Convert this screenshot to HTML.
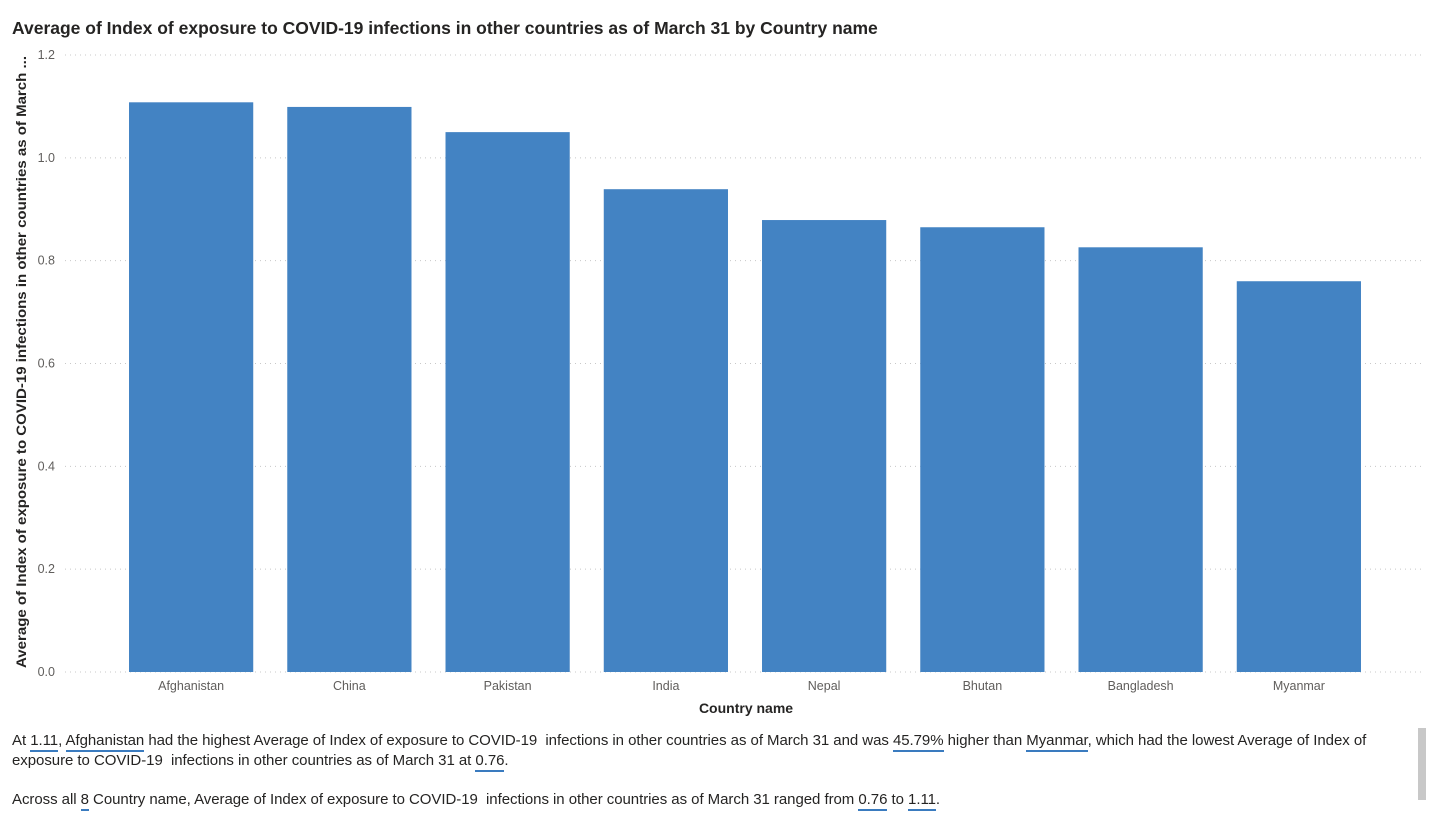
<!DOCTYPE html>
<html><head><meta charset="utf-8">
<style>
body{margin:0;width:1438px;height:835px;background:#fff;font-family:"Liberation Sans",sans-serif;overflow:hidden;position:relative}
#title{position:absolute;left:12px;top:18px;font-size:17.5px;font-weight:bold;color:#252423}
#narr{position:absolute;left:12px;top:731px;font-size:15px;line-height:19.5px;color:#252423;white-space:nowrap;letter-spacing:-0.05px}
#narr u{text-decoration:none;border-bottom:2px solid #3a7bbf;padding-bottom:1px}
#scroll{position:absolute;left:1418px;top:728px;width:8px;height:72px;background:#c8c8c8}
svg text{font-family:"Liberation Sans",sans-serif}
</style></head><body>
<div id="title">Average of Index of exposure to COVID-19 infections in other countries as of March 31 by Country name</div>
<svg id="chart" width="1438" height="725" style="position:absolute;left:0;top:0"></svg>
<div id="narr">At <u>1.11</u>, <u>Afghanistan</u> had the highest Average of Index of exposure to COVID-19&nbsp; infections in other countries as of March 31 and was <u>45.79%</u> higher than <u>Myanmar</u>, which had the lowest Average of Index of<br>exposure to COVID-19&nbsp; infections in other countries as of March 31 at <u>0.76</u>.<br><br>Across all <u>8</u> Country name, Average of Index of exposure to COVID-19&nbsp; infections in other countries as of March 31 ranged from <u>0.76</u> to <u>1.11</u>.</div>
<div id="scroll"></div>
<script>
const categories=["Afghanistan","China","Pakistan","India","Nepal","Bhutan","Bangladesh","Myanmar"];
const values=[1.108,1.099,1.05,0.939,0.879,0.865,0.826,0.760];
const yTicks=[0,0.2,0.4,0.6,0.8,1.0,1.2];
const yTickLabels=["0.0","0.2","0.4","0.6","0.8","1.0","1.2"];
const NS="http://www.w3.org/2000/svg";
const svg=document.getElementById('chart');
const y0=672,y1=55,yMax=1.2;
const y=v=>y0-(v/yMax)*(y0-y1);
const xs=112,xe=1378,band=(xe-xs)/categories.length,bw=band*0.785;
const x=i=>xs+i*band+(band-bw)/2;
function mk(t,a){const e=document.createElementNS(NS,t);for(const k in a)e.setAttribute(k,a[k]);svg.appendChild(e);return e;}
yTicks.forEach((t,i)=>{
  const g=mk('line',{x1:65,x2:1422,y1:y(t),y2:y(t),stroke:'#c8c8c8','stroke-dasharray':'1 4'});
  
  
  const l=mk('text',{x:55,y:y(t)+4,'text-anchor':'end','font-size':12.5,fill:'#605e5c'});
  l.textContent=yTickLabels[i];
  
  
});
categories.forEach((c,i)=>{
  const r=mk('rect',{x:x(i),y:y(values[i]),width:bw,height:y0-y(values[i]),fill:'#4383c3'});
  
  
  const t=mk('text',{x:x(i)+bw/2,y:690,'text-anchor':'middle','font-size':12.5,fill:'#605e5c'});
  t.textContent=c;
  
  
});
const xt=mk('text',{x:746,y:713,'text-anchor':'middle','font-size':14,'font-weight':'bold',fill:'#252423'});
xt.textContent='Country name';


const yt=mk('text',{x:0,y:0,'text-anchor':'middle','font-size':14,'font-weight':'bold',fill:'#252423',transform:'translate(26,362) rotate(-90)',textLength:612,lengthAdjust:'spacingAndGlyphs'});
yt.textContent='Average of Index of exposure to COVID-19 infections in other countries as of March ...';


</script>
</body></html>
